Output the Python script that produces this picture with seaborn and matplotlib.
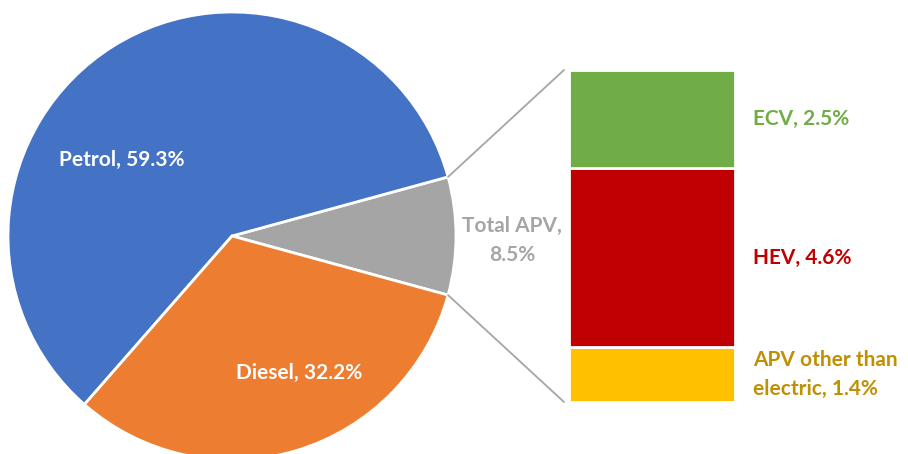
import matplotlib
matplotlib.use("Agg")
import matplotlib.pyplot as plt
import seaborn as sns
import numpy as np
from matplotlib.patches import ConnectionPatch

# Data
pie_labels = ["Total APV", "Petrol", "Diesel"]
pie_values = [8.5, 59.3, 32.2]
pie_colors = ["#A5A5A5", "#4472C4", "#ED7D31"]

bar_labels = ["APV other than\nelectric", "HEV", "ECV"]
bar_values = [1.4, 4.6, 2.5]
bar_colors = ["#FFC000", "#C00000", "#70AD47"]
bar_text_colors = ["#BF9000", "#C00000", "#70AD47"]

sns.set_theme(style="white")
plt.rcParams['font.family'] = ['Lato', 'DejaVu Sans']

W, H = 908, 454
fig = plt.figure(figsize=(W / 100, H / 100), dpi=100)

# pie axes: center (232, 236) px, radius 224 px
cx, cy, r = 232, 236, 224
ax1 = fig.add_axes([(cx - r) / W, (H - cy - r) / H, 2 * r / W, 2 * r / H])
start = -pie_values[0] / 100 * 360 / 2
wedges, _ = ax1.pie(pie_values, colors=pie_colors, startangle=start, counterclock=True,
                    wedgeprops=dict(edgecolor="white", linewidth=2), radius=1)
ax1.set_xlim(-1, 1)
ax1.set_ylim(-1, 1)
ax1.axis("off")

fs = 15
ls = 1.6
ax1.text(-0.49, 0.34, "Petrol, 59.3%", color="white", fontsize=fs, fontweight="bold",
         ha="center", va="center")
ax1.text(0.30, -0.61, "Diesel, 32.2%", color="white", fontsize=fs, fontweight="bold",
         ha="center", va="center")
ax1.text(1.25, -0.02, "Total APV,\n8.5%", color="#A5A5A5", fontsize=fs, fontweight="bold",
         ha="center", va="center", linespacing=ls)

# stacked bar axes
bx0, bx1, by0, by1 = 569, 735, 70, 402
ax2 = fig.add_axes([bx0 / W, (H - by1) / H, (bx1 - bx0) / W, (by1 - by0) / H])
bottom = 0
for lab, val, col, tcol in zip(bar_labels, bar_values, bar_colors, bar_text_colors):
    ax2.bar(0, val, bottom=bottom, width=1, color=col, edgecolor="white", linewidth=2)
    ax2.annotate(f"{lab}, {val}%", xy=(0.5, bottom + val / 2), xytext=(13, 0),
                 textcoords="offset points", color=tcol, fontsize=fs, fontweight="bold",
                 ha="left", va="center", annotation_clip=False, linespacing=ls)
    bottom += val
ax2.set_xlim(-0.5, 0.5)
ax2.set_ylim(0, sum(bar_values))
ax2.axis("off")

# connector lines from the grey wedge to the bar
theta = abs(start)
for ang, yb in [(theta, sum(bar_values)), (-theta, 0)]:
    p = (np.cos(np.radians(ang)), np.sin(np.radians(ang)))
    con = ConnectionPatch(xyA=p, coordsA=ax1.transData, xyB=(-0.53, yb), coordsB=ax2.transData,
                          color="#A5A5A5", linewidth=1.3)
    fig.add_artist(con)

fig.savefig("out.png", dpi=100)
